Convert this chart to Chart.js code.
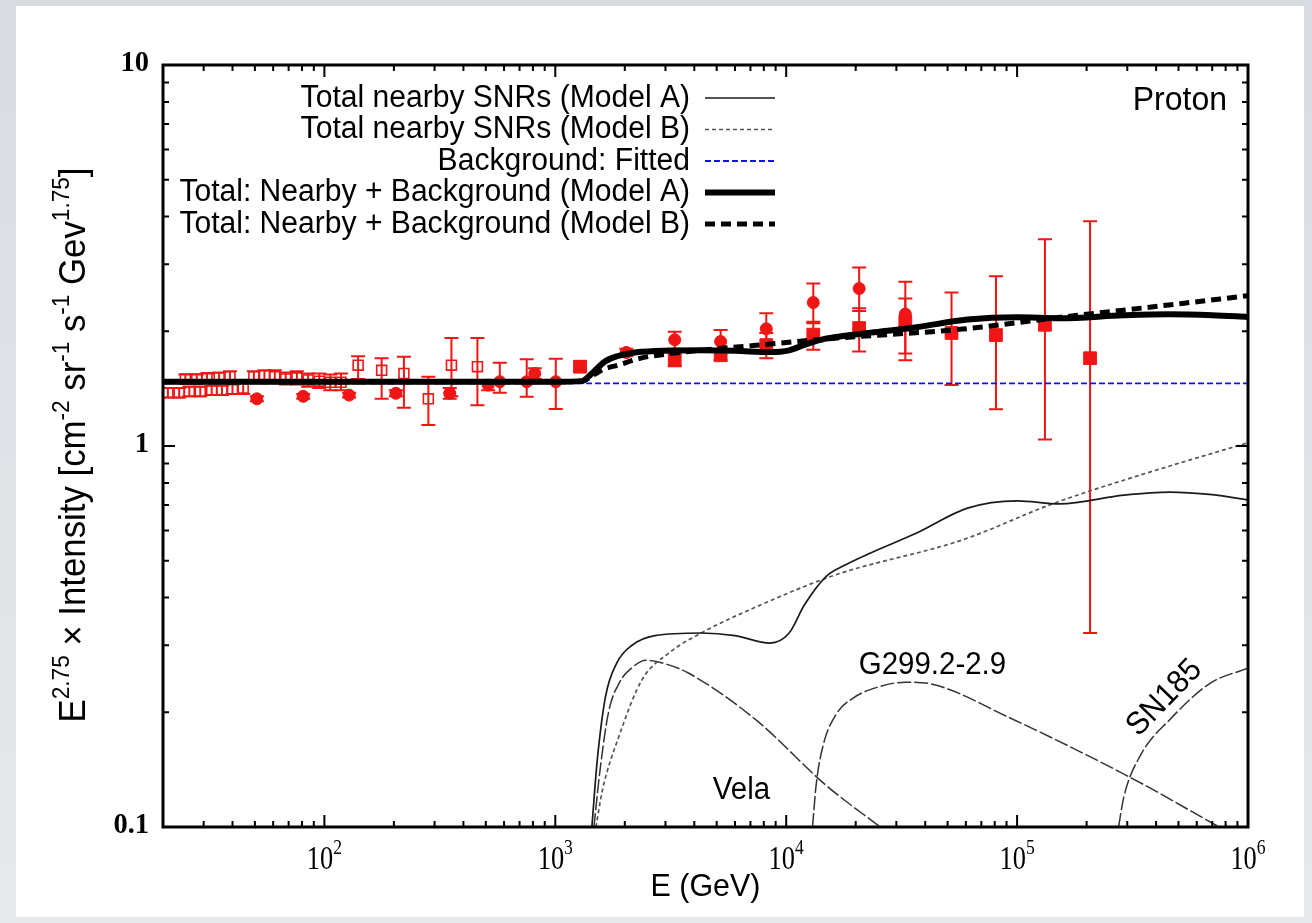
<!DOCTYPE html>
<html><head><meta charset="utf-8">
<script src="https://cdn.jsdelivr.net/npm/chart.js@4.4.1/dist/chart.umd.min.js"></script>
<style>html,body{margin:0;padding:0;background:#e2e5e9;overflow:hidden}canvas{display:block}</style>
</head><body><canvas id="c" width="1312" height="923"></canvas>
<script>
// ---------------- data ----------------
const xTickValues = [1e2, 1e3, 1e4, 1e5, 1e6];
const xTickExponents = ['2', '3', '4', '5', '6'];
const yTickValues = [0.1, 1, 10];
const yTickLabels = ['0.1', '1', '10'];

// Total nearby SNRs (Model A)
const snrAE = [1440, 1520, 1650, 1850, 2150, 2700, 4290, 6000, 8500, 10300, 12000, 14800, 18000, 23200, 36700, 61000, 100000, 153000, 290000, 457000, 700000, 1000000];
const snrAV = [0.1, 0.15, 0.22, 0.27, 0.30, 0.318, 0.323, 0.318, 0.304, 0.323, 0.383, 0.453, 0.487, 0.524, 0.591, 0.687, 0.718, 0.705, 0.743, 0.757, 0.745, 0.722];
// Total nearby SNRs (Model B)
const snrBE = [1500, 1600, 1880, 2370, 3100, 4290, 7400, 16200, 58000, 145000, 364000, 1000000];
const snrBV = [0.1, 0.125, 0.172, 0.243, 0.286, 0.323, 0.378, 0.458, 0.567, 0.708, 0.849, 1.02];
// Background: fitted
const bgE = [20, 1000000];
const bgV = [1.46, 1.46];
// Total: nearby + background (Model A)
const totAE = [20, 100, 500, 1000, 1300, 1440, 1520, 1650, 1850, 2150, 2700, 4290, 6000, 8500, 10300, 12000, 14800, 18000, 23200, 36700, 61000, 100000, 153000, 290000, 457000, 700000, 1000000];
const totAV = [1.475, 1.475, 1.475, 1.475, 1.48, 1.55, 1.60, 1.67, 1.72, 1.755, 1.775, 1.783, 1.778, 1.764, 1.783, 1.843, 1.913, 1.947, 1.984, 2.05, 2.147, 2.178, 2.165, 2.203, 2.217, 2.205, 2.182];
// Total: nearby + background (Model B)
const totBE = [20, 100, 500, 1000, 1300, 1500, 1600, 1880, 2370, 3100, 4290, 7400, 16200, 58000, 145000, 364000, 1000000];
const totBV = [1.475, 1.475, 1.475, 1.475, 1.48, 1.55, 1.585, 1.632, 1.703, 1.746, 1.783, 1.838, 1.918, 2.027, 2.168, 2.309, 2.48];
// Individual SNRs
const velaE = [1470, 1560, 1700, 1900, 2150, 2470, 3000, 3750, 7400, 14800, 25500];
const velaV = [0.1, 0.14, 0.20, 0.24, 0.262, 0.274, 0.268, 0.254, 0.191, 0.129, 0.1];
const g299E = [13000, 13500, 14500, 16500, 19500, 25000, 33000, 43000, 92000, 316000, 750000];
const g299V = [0.1, 0.13, 0.165, 0.198, 0.218, 0.233, 0.240, 0.237, 0.194, 0.134, 0.1];
const sn185E = [275000, 290000, 346000, 457000, 690000, 1000000];
const sn185V = [0.1, 0.12, 0.156, 0.191, 0.239, 0.261];

// Measurements: open squares
const openSqE  = [21, 23.5, 26, 29, 32.5, 36, 40, 44.5, 25, 28, 31, 35, 39, 49.5, 55, 61, 68, 76, 85, 95, 106, 118, 140, 177, 221, 282, 355, 460];
const openSqV  = [1.38, 1.38, 1.39, 1.39, 1.40, 1.40, 1.41, 1.42, 1.50, 1.50, 1.51, 1.51, 1.52, 1.52, 1.53, 1.52, 1.50, 1.51, 1.49, 1.48, 1.47, 1.47, 1.63, 1.58, 1.55, 1.33, 1.63, 1.615];
const openSqLo = [1.34, 1.34, 1.35, 1.35, 1.36, 1.36, 1.37, 1.37, 1.46, 1.46, 1.47, 1.47, 1.47, 1.47, 1.48, 1.47, 1.45, 1.45, 1.43, 1.42, 1.40, 1.40, 1.50, 1.33, 1.26, 1.135, 1.35, 1.28];
const openSqHi = [1.42, 1.42, 1.43, 1.43, 1.44, 1.44, 1.45, 1.47, 1.54, 1.54, 1.55, 1.56, 1.57, 1.57, 1.58, 1.58, 1.56, 1.57, 1.55, 1.55, 1.54, 1.55, 1.72, 1.70, 1.715, 1.52, 1.92, 1.92];
// Measurements: filled circles
const circE  = [51, 81, 128, 204, 349, 512, 575, 752, 815, 1005, 2030, 3290, 5200, 8200, 13100, 20700, 32800];
const circV  = [1.33, 1.35, 1.36, 1.375, 1.375, 1.445, 1.475, 1.475, 1.55, 1.475, 1.76, 1.90, 1.88, 2.03, 2.38, 2.59, 2.22];
const circLo = [1.31, 1.33, 1.34, 1.35, 1.33, 1.40, 1.38, 1.347, 1.50, 1.25, 1.72, 1.80, 1.78, 1.85, 2.10, 2.26, 1.75];
const circHi = [1.35, 1.37, 1.38, 1.40, 1.42, 1.49, 1.654, 1.69, 1.60, 1.694, 1.80, 1.995, 2.015, 2.23, 2.67, 2.94, 2.70];
// Measurements: filled squares
const fsqE  = [1280, 3290, 5200, 8200, 13100, 20700, 32800, 52000, 81000, 132000, 207000];
const fsqV  = [1.615, 1.68, 1.73, 1.84, 1.96, 2.04, 2.12, 1.98, 1.955, 2.08, 1.70];
const fsqLo = [1.57, 1.62, 1.68, 1.70, 1.79, 1.77, 1.68, 1.446, 1.248, 1.04, 0.323];
const fsqHi = [1.67, 1.75, 1.79, 1.98, 2.12, 2.30, 2.44, 2.53, 2.79, 3.49, 3.89];

const legendLabels = [
  'Total nearby SNRs (Model A)',
  'Total nearby SNRs (Model B)',
  'Background: Fitted',
  'Total: Nearby + Background (Model A)',
  'Total: Nearby + Background (Model B)'
];
const panelLabel = 'Proton';
const snrLabels = ['Vela', 'G299.2-2.9', 'SN185'];
const xTitle = 'E (GeV)';
const yTitleParts = [
  {t: 'E'}, {t: '2.75', s: 1}, {t: ' \u00d7 Intensity [cm'}, {t: '-2', s: 1},
  {t: ' sr'}, {t: '-1', s: 1}, {t: ' s'}, {t: '-1', s: 1}, {t: ' Gev'}, {t: '1.75', s: 1}, {t: ']'}
];

// ---------------- chart ----------------
const pts = (E, V) => E.map((e, i) => ({x: e, y: V[i]}));
const RED = 'rgb(240,22,22)';
const SANS = '"Liberation Sans", Arial, sans-serif';
const SERIF = '"Liberation Serif", "Times New Roman", serif';

function curve(E, V, color, width, dash, order) {
  return {data: pts(E, V), showLine: true, pointRadius: 0, borderColor: color,
    backgroundColor: color, borderWidth: width, borderDash: dash,
    cubicInterpolationMode: 'monotone', order: order, fill: false};
}
function marks(E, V, lo, hi, style, radius, filled, order) {
  return {data: pts(E, V), lo: lo, hi: hi, showLine: false, pointStyle: style,
    pointRadius: radius, borderColor: RED, backgroundColor: filled ? RED : 'rgba(255,255,255,0)',
    pointBorderWidth: filled ? 1 : 1.6, order: order};
}

const datasets = [
  curve(snrAE, snrAV, '#1a1a1a', 1.7, [], 2),
  curve(snrBE, snrBV, '#555', 1.7, [4, 3], 2),
  curve(bgE, bgV, '#1010ff', 1.8, [6, 3], 3),
  curve(totAE, totAV, '#000', 6, [], 0),
  curve(totBE, totBV, '#000', 5, [10, 6], 1),
  curve(velaE, velaV, '#333', 1.5, [14, 3], 2),
  curve(g299E, g299V, '#333', 1.5, [14, 3], 2),
  curve(sn185E, sn185V, '#333', 1.5, [14, 3], 2),
  marks(openSqE, openSqV, openSqLo, openSqHi, 'rect', 7, false, 5),
  marks(circE, circV, circLo, circHi, 'circle', 6, true, 5),
  marks(fsqE, fsqV, fsqLo, fsqHi, 'rect', 9, true, 5)
];

function drawRich(ctx, parts, x, y, align, baseFont, supFont, raise, sx) {
  sx = sx || 1;
  let w = 0;
  for (const p of parts) { ctx.font = p.s ? supFont : baseFont; w += ctx.measureText(p.t).width; }
  ctx.save();
  ctx.translate(x, y); ctx.scale(sx, 1);
  let cx = align === 'center' ? -w / 2 : (align === 'right' ? -w : 0);
  ctx.textAlign = 'left';
  for (const p of parts) {
    ctx.font = p.s ? supFont : baseFont;
    ctx.fillText(p.t, cx, p.s ? -raise : 0);
    cx += ctx.measureText(p.t).width;
  }
  ctx.restore();
}

const decor = {
  id: 'decor',
  beforeDraw(chart) {
    const ctx = chart.ctx;
    const g = ctx.createLinearGradient(0, 0, 0, chart.height);
    g.addColorStop(0, '#d8dce1'); g.addColorStop(1, '#e7e9ec');
    ctx.fillStyle = g; ctx.fillRect(0, 0, chart.width, chart.height);
    ctx.fillStyle = '#ffffff'; ctx.fillRect(16, 6, 1288, 911);
  },
  beforeDatasetsDraw(chart) {
    const ctx = chart.ctx, xs = chart.scales.x, ys = chart.scales.y, a = chart.chartArea;
    ctx.save();
    ctx.beginPath(); ctx.rect(a.left, a.top, a.right - a.left, a.bottom - a.top); ctx.clip();
    ctx.strokeStyle = RED; ctx.lineWidth = 2;
    chart.data.datasets.forEach(ds => {
      if (!ds.lo) return;
      ds.data.forEach((p, i) => {
        const x = xs.getPixelForValue(p.x);
        const y1 = ys.getPixelForValue(ds.lo[i]), y2 = ys.getPixelForValue(ds.hi[i]);
        ctx.beginPath();
        ctx.moveTo(x, y1); ctx.lineTo(x, y2);
        ctx.moveTo(x - 7, y1); ctx.lineTo(x + 7, y1);
        ctx.moveTo(x - 7, y2); ctx.lineTo(x + 7, y2);
        ctx.stroke();
      });
    });
    ctx.restore();
  },
  afterDraw(chart) {
    const ctx = chart.ctx, xs = chart.scales.x, ys = chart.scales.y, a = chart.chartArea;
    ctx.save();
    // ticks (inside, mirrored)
    ctx.strokeStyle = '#000'; ctx.lineWidth = 2;
    const xt = [], yt = [];
    for (let d = 1; d <= 1e5; d *= 10) for (let m = 1; m <= 9; m++) {
      const v = d * m; if (v >= 20 && v <= 1e6) xt.push([v, m === 1]);
    }
    xt.push([1e6, true]);
    for (let d = 0.1; d <= 1.01; d *= 10) for (let m = 1; m <= 9; m++) yt.push([d * m, m === 1]);
    yt.push([10, true]);
    ctx.beginPath();
    xt.forEach(([v, maj]) => {
      const x = xs.getPixelForValue(v), L = maj ? 12 : 6;
      ctx.moveTo(x, a.bottom); ctx.lineTo(x, a.bottom - L);
      ctx.moveTo(x, a.top); ctx.lineTo(x, a.top + L);
    });
    yt.forEach(([v, maj]) => {
      const y = ys.getPixelForValue(v), L = maj ? 12 : 6;
      ctx.moveTo(a.left, y); ctx.lineTo(a.left + L, y);
      ctx.moveTo(a.right, y); ctx.lineTo(a.right - L, y);
    });
    ctx.stroke();
    // frame
    ctx.lineWidth = 3;
    ctx.strokeRect(a.left, a.top, a.right - a.left, a.bottom - a.top);
    // tick labels
    ctx.fillStyle = '#000'; ctx.textBaseline = 'alphabetic';
    xTickValues.forEach((v, i) => {
      drawRich(ctx, [{t: '10'}, {t: xTickExponents[i], s: 1}], xs.getPixelForValue(v), 869, 'center',
        '33px ' + SERIF, '22px ' + SERIF, 15, 0.8);
    });
    ctx.textBaseline = 'middle';
    yTickValues.forEach((v, i) => {
      drawRich(ctx, [{t: yTickLabels[i]}], 149, ys.getPixelForValue(v) - 2, 'right',
        'bold 30px ' + SERIF, 'bold 20px ' + SERIF, 0, 0.95);
    });
    // axis titles
    ctx.textBaseline = 'alphabetic';
    drawRich(ctx, [{t: xTitle}], (a.left + a.right) / 2, 896, 'center', '32px ' + SANS, '20px ' + SANS, 0, 0.95);
    ctx.save();
    ctx.translate(85, 445); ctx.rotate(-Math.PI / 2);
    drawRich(ctx, yTitleParts, 0, 0, 'center', '37px ' + SANS, '24px ' + SANS, 16, 0.94);
    ctx.restore();
    // legend
    const rows = [98, 129.5, 161, 192.5, 224];
    ctx.textBaseline = 'middle';
    legendLabels.forEach((lab, i) => {
      ctx.fillStyle = '#000';
      drawRich(ctx, [{t: lab}], 690, rows[i], 'right', '31px ' + SANS, '20px ' + SANS, 0, 0.97);
      const ds = chart.data.datasets[i];
      ctx.save();
      ctx.strokeStyle = ds.borderColor; ctx.lineWidth = ds.borderWidth; ctx.setLineDash(ds.borderDash || []);
      ctx.beginPath(); ctx.moveTo(705, rows[i]); ctx.lineTo(775, rows[i]); ctx.stroke();
      ctx.restore();
    });
    // annotations
    ctx.fillStyle = '#000'; ctx.textBaseline = 'middle';
    drawRich(ctx, [{t: panelLabel}], 1227, 101, 'right', '33px ' + SANS, '20px ' + SANS, 0, 0.97);
    drawRich(ctx, [{t: snrLabels[0]}], xs.getPixelForValue(6400), ys.getPixelForValue(0.125), 'center', '31px ' + SANS, '20px ' + SANS, 0, 0.95);
    drawRich(ctx, [{t: snrLabels[1]}], xs.getPixelForValue(43000), ys.getPixelForValue(0.265), 'center', '31px ' + SANS, '20px ' + SANS, 0, 0.95);
    ctx.save();
    ctx.translate(xs.getPixelForValue(435000), ys.getPixelForValue(0.218));
    ctx.rotate(-46 * Math.PI / 180);
    drawRich(ctx, [{t: snrLabels[2]}], 0, 0, 'center', '32px ' + SANS, '20px ' + SANS, 0, 0.95);
    ctx.restore();
    ctx.restore();
  }
};

new Chart(document.getElementById('c'), {
  type: 'scatter',
  data: {datasets: datasets},
  options: {
    responsive: false, animation: false, devicePixelRatio: 1,
    layout: {padding: {left: 163, right: 64, top: 65, bottom: 96}},
    plugins: {legend: {display: false}, tooltip: {enabled: false}},
    scales: {
      x: {type: 'logarithmic', min: 20, max: 1e6, display: false},
      y: {type: 'logarithmic', min: 0.1, max: 10, display: false}
    }
  },
  plugins: [decor]
});
</script></body></html>
